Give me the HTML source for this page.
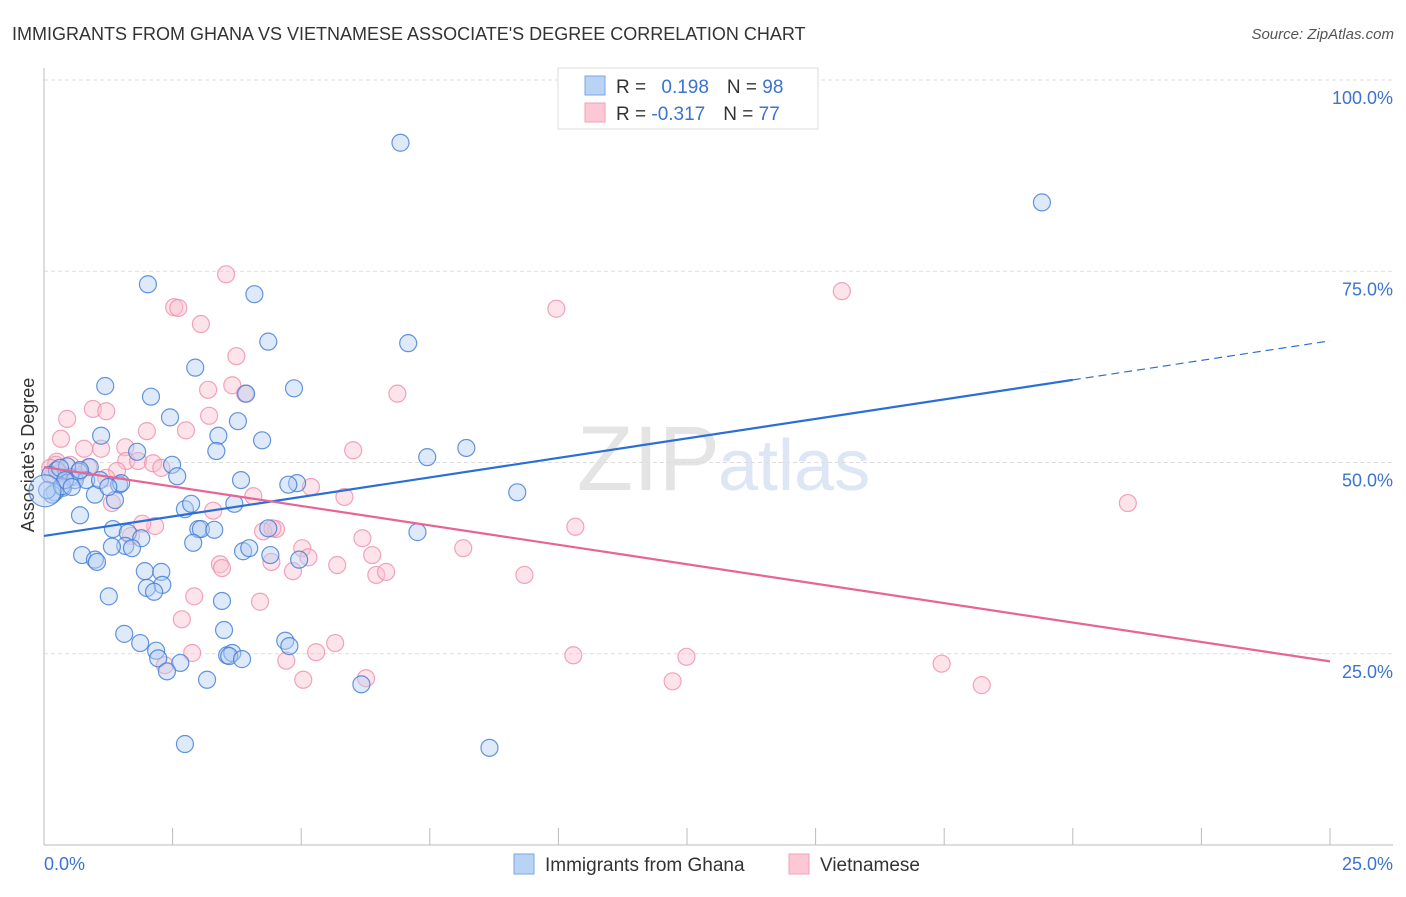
<!DOCTYPE html>
<html><head><meta charset="utf-8"><style>
body{margin:0;background:#fff;font-family:"Liberation Sans",sans-serif}
svg text{font-family:"Liberation Sans",sans-serif}
</style></head><body>
<svg id="chart" width="1406" height="892" xmlns="http://www.w3.org/2000/svg">
<text x="12" y="40" font-size="18" fill="#333">IMMIGRANTS FROM GHANA VS VIETNAMESE ASSOCIATE'S DEGREE CORRELATION CHART</text>
<text x="1394" y="39" font-size="15" fill="#555" font-style="italic" text-anchor="end">Source: ZipAtlas.com</text>
<text x="720" y="490" font-size="92" fill="#e4e4e4" text-anchor="end" font-family="Liberation Serif">ZIP</text>
<text x="718" y="490" font-size="72" fill="#dce6f5">atlas</text>
<g id="grid"></g>
<line x1="44" y1="68" x2="44" y2="845" stroke="#bbb"/>
<line x1="44" y1="845" x2="1393" y2="845" stroke="#bbb"/>
<g id="xticks"></g>
<text x="34" y="455" font-size="18" fill="#333" text-anchor="middle" transform="rotate(-90 34 455)">Associate's Degree</text>
<text x="44" y="870" font-size="18" fill="#3b73d1">0.0%</text>
<text x="1393" y="870" font-size="18" fill="#3b73d1" text-anchor="end">25.0%</text>
<g id="pts"></g>
<g id="trend"></g>
<g>
<rect x="558" y="68" width="260" height="61" fill="#fff" stroke="#ddd"/>
<rect x="585" y="76" width="20" height="19" fill="#b9d3f5" stroke="#7aa6e6"/>
<rect x="585" y="103" width="20" height="19" fill="#fcc8d6" stroke="#f2a0b6"/>
<text x="616" y="93" font-size="19" fill="#333">R = <tspan fill="#3b73d1" dx="10">0.198</tspan><tspan dx="18" fill="#333">N = </tspan><tspan fill="#3b73d1">98</tspan></text>
<text x="616" y="120" font-size="19" fill="#333">R = <tspan fill="#3b73d1">-0.317</tspan><tspan dx="18" fill="#333">N = </tspan><tspan fill="#3b73d1">77</tspan></text>
</g>
<g>
<rect x="514" y="854" width="20" height="20" fill="#b9d3f5" stroke="#7aa6e6"/>
<text x="545" y="871" font-size="19" fill="#333">Immigrants from Ghana</text>
<rect x="789" y="854" width="20" height="20" fill="#fcc8d6" stroke="#f2a0b6"/>
<text x="820" y="871" font-size="19" fill="#333">Vietnamese</text>
</g>
</svg>
<script>
const yTicks=[25,50,75,100];
const yTickLabels=["25.0%","50.0%","75.0%","100.0%"];
const xTickVals=[0,2.5,5,7.5,10,12.5,15,17.5,20,22.5,25];
const ghanaX=[6.93,19.4,2.02,4.09,4.36,7.08,2.94,1.19,4.86,2.08,3.93,2.45,3.77,1.11,3.39,4.24,8.21,7.45,1.81,3.35,2.49,2.59,3.83,4.92,4.75,9.20,0.89,0.68,0.51,0.25,0.37,0.12,0.21,1.46,0.99,1.38,1.50,2.74,2.86,3.70,0.70,1.34,1.63,1.89,3.00,3.05,3.31,4.36,7.26,1.58,1.32,1.71,2.90,3.87,3.99,4.40,0.74,0.99,1.03,4.96,1.96,2.28,1.26,2.30,2.00,2.14,3.46,1.56,1.87,3.50,4.69,4.77,2.18,3.56,3.66,3.60,3.85,2.22,2.65,2.39,3.17,6.17,2.74,8.66,0.45,0.31,0.60,0.82,0.16,0.06,0.35,1.09,1.25,0.41,0.54,0.70,0.02];
const ghanaY=[91.8,84.0,73.3,72.0,65.8,65.6,62.4,60.0,59.7,58.6,59.0,55.9,55.4,53.5,53.5,52.9,51.9,50.7,51.4,51.5,49.7,48.2,47.7,47.3,47.1,46.1,49.4,48.8,48.1,49.0,46.7,48.4,46.1,47.1,45.8,45.1,47.3,43.9,44.6,44.6,43.1,41.3,40.8,40.1,41.3,41.3,41.2,41.4,40.9,39.1,39.0,38.8,39.5,38.4,38.8,37.9,37.9,37.3,37.0,37.3,35.8,35.7,32.5,34.0,33.6,33.1,31.9,27.6,26.4,28.1,26.7,26.0,25.4,24.8,25.1,24.7,24.3,24.4,23.8,22.7,21.6,21.0,13.2,12.7,49.5,49.3,47.7,47.7,45.8,46.4,46.9,47.7,46.8,47.7,46.8,49.0,46.3];
const vietX=[3.54,15.51,2.53,2.61,3.05,9.96,3.74,3.19,3.66,3.91,6.87,0.45,0.95,1.21,3.21,2.76,2.00,0.33,1.58,1.11,0.78,6.01,1.60,1.83,2.12,2.28,1.42,0.25,0.18,0.51,0.86,1.21,4.07,1.32,5.19,5.84,21.07,10.33,2.16,1.91,3.29,4.51,4.26,4.44,1.69,6.19,5.02,8.15,3.42,3.46,6.38,5.14,4.42,4.84,5.70,9.34,6.46,6.65,2.68,2.92,4.20,10.29,12.49,17.45,18.23,5.29,5.66,4.71,12.22,5.04,6.26,2.35,2.88,0.23,0.12,0.37,0.60,0.31];
const vietY=[74.6,72.4,70.3,70.2,68.1,70.1,63.9,59.5,60.1,59.0,59.0,55.7,57.0,56.7,56.1,54.2,54.1,53.1,52.0,51.8,51.8,51.6,50.2,50.2,49.9,49.3,48.9,50.1,48.4,49.7,49.4,48.0,45.6,44.7,46.8,45.5,44.7,41.6,41.7,42.0,43.7,41.3,41.0,41.4,40.4,40.1,38.8,38.8,36.7,36.2,37.9,37.6,37.0,35.8,36.6,35.3,35.3,35.7,29.5,32.5,31.8,24.8,24.6,23.7,20.9,25.2,26.4,24.1,21.4,21.6,21.8,23.5,25.1,49.7,49.3,48.0,48.1,48.6];
const ghanaTrend=[40.4,60.8]; // value at x=0 and x=20
const vietTrend=[49.4,24.0]; // value at x=0 and x=25
const X=v=>44+v*51.44, Y=v=>845-v*7.65;
const NS="http://www.w3.org/2000/svg";
function mk(t,a,p){const e=document.createElementNS(NS,t);for(const k in a)e.setAttribute(k,a[k]);p.appendChild(e);return e;}
const grid=document.getElementById('grid');
yTicks.forEach((v,i)=>{
 const l=mk('line',{x1:44,x2:1393,y1:Y(v),y2:Y(v),stroke:'#ddd','stroke-dasharray':'4,3'},grid);
 
 
 const t=mk('text',{x:1393,y:Y(v)+24,'font-size':18,fill:'#3b73d1','text-anchor':'end'},grid);
 t.textContent=yTickLabels[i];
 
 
});
const xt=document.getElementById('xticks');
xTickVals.forEach(v=>{
 const l=mk('line',{x1:X(v),x2:X(v),y1:828,y2:845,stroke:'#bbb'},xt);
 
 
});
const pts=document.getElementById('pts');
function draw(xs,ys,fill,stroke,name){
 xs.forEach((x,i)=>{
  const r=(i===xs.length-1&&name==='ghana-point')?16:8.5;
  const c=mk('circle',{cx:X(x),cy:Y(ys[i]),r:r,fill:fill,'fill-opacity':0.45,stroke:stroke,'stroke-width':1.2,'stroke-opacity':0.8},pts);
  
  
 });
}
draw(vietX,vietY,'#fbc0d0','#ee8fab','vietnamese-point');
draw(ghanaX,ghanaY,'#b5cff3','#3f7ad6','ghana-point');
const tr=document.getElementById('trend');
const bs=(ghanaTrend[1]-ghanaTrend[0])/20;
let l=mk('line',{x1:X(0),y1:Y(ghanaTrend[0]),x2:X(20),y2:Y(ghanaTrend[1]),stroke:'#2a6fd6','stroke-width':2.2},tr);


l=mk('line',{x1:X(20),y1:Y(ghanaTrend[1]),x2:X(25),y2:Y(ghanaTrend[0]+bs*25),stroke:'#2a6fd6','stroke-width':1.2,'stroke-dasharray':'8,5'},tr);


l=mk('line',{x1:X(0),y1:Y(vietTrend[0]),x2:X(25),y2:Y(vietTrend[1]),stroke:'#e76595','stroke-width':2.2},tr);


</script>
</body></html>
